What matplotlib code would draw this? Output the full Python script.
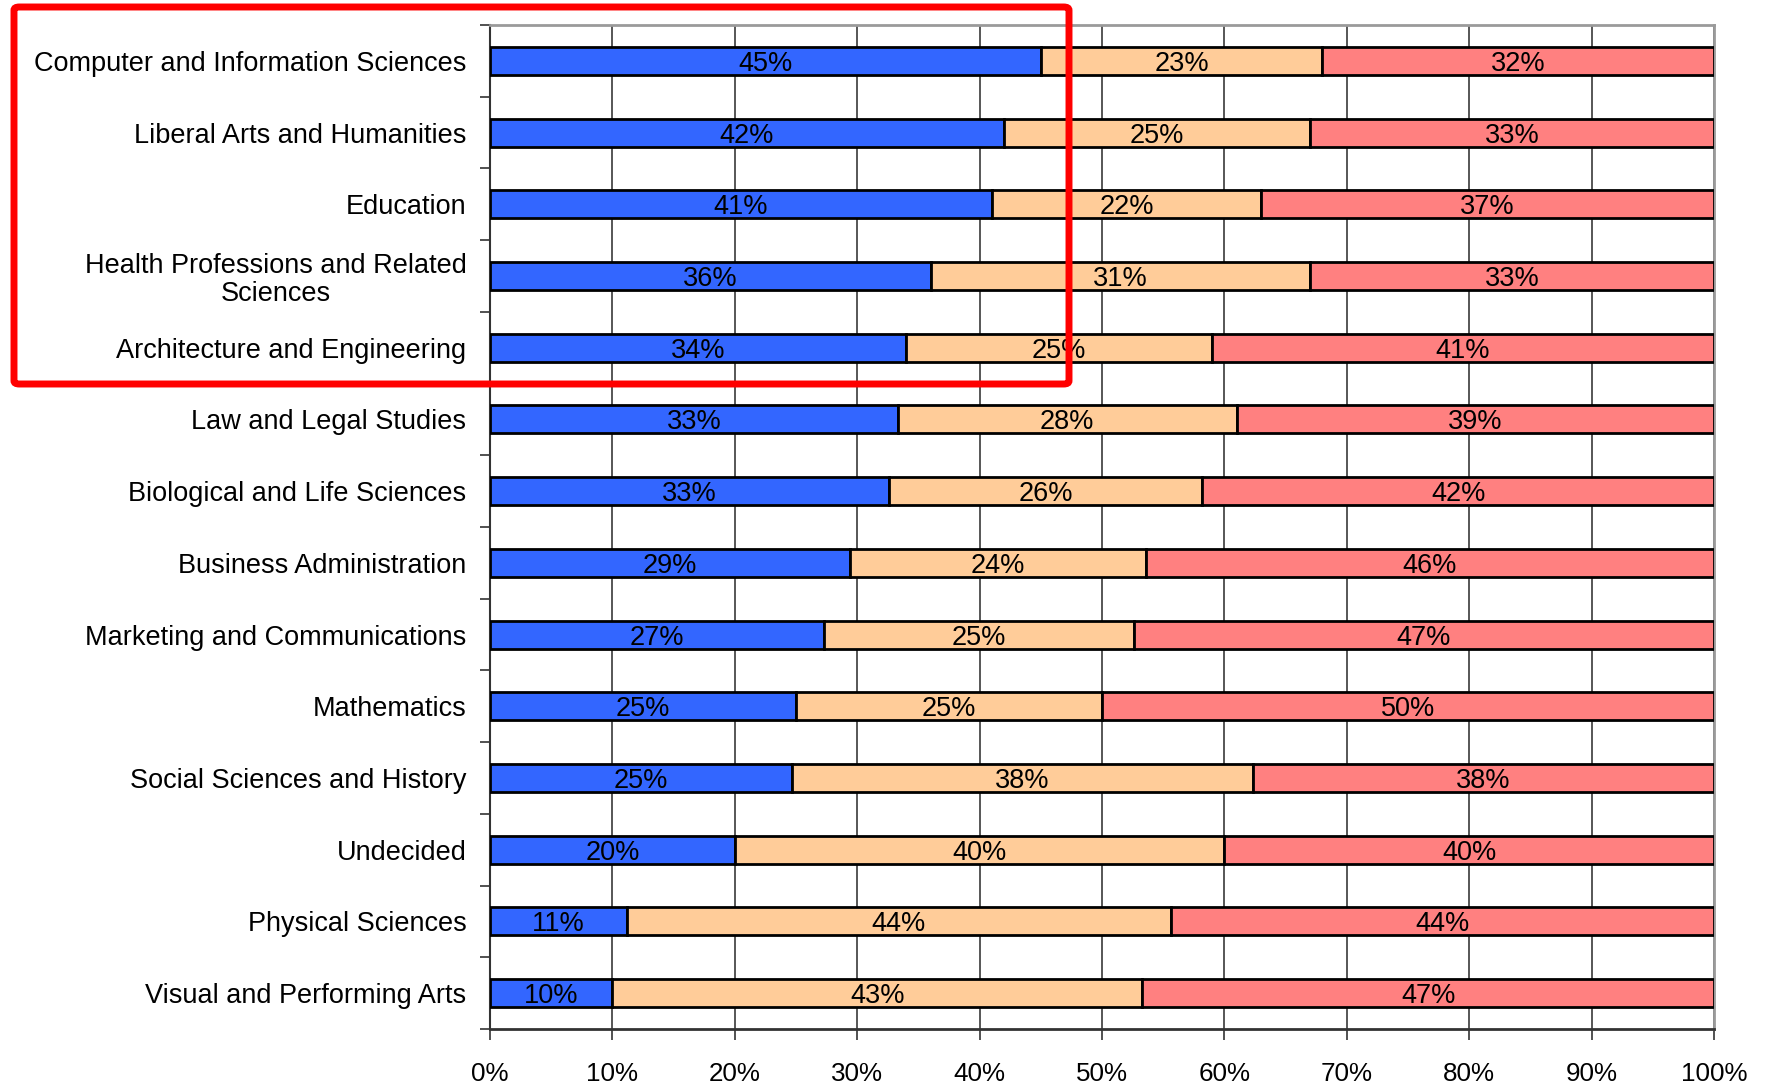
import matplotlib
matplotlib.use("Agg")
import matplotlib.pyplot as plt
from matplotlib.patches import FancyBboxPatch
from matplotlib.ticker import FixedLocator, PercentFormatter
import numpy as np

plt.rcParams['font.family'] = ['Liberation Sans', 'DejaVu Sans']

categories = [
    "Computer and Information Sciences",
    "Liberal Arts and Humanities",
    "Education",
    "Health Professions and Related\nSciences",
    "Architecture and Engineering",
    "Law and Legal Studies",
    "Biological and Life Sciences",
    "Business Administration",
    "Marketing and Communications",
    "Mathematics",
    "Social Sciences and History",
    "Undecided",
    "Physical Sciences",
    "Visual and Performing Arts",
]
first_share = [45.0, 42.0, 41.0, 36.0, 34.0, 33.3, 32.6, 29.4, 27.3, 25.0, 24.7, 20.0, 11.2, 10.0]
second_share = [23.0, 25.0, 22.0, 31.0, 25.0, 27.7, 25.6, 24.2, 25.3, 25.0, 37.6, 40.0, 44.4, 43.3]
third_share = [32.0, 33.0, 37.0, 33.0, 41.0, 39.0, 41.8, 46.4, 47.4, 50.0, 37.7, 40.0, 44.4, 46.7]
x_ticks = [0, 10, 20, 30, 40, 50, 60, 70, 80, 90, 100]

colors = ["#3366FF", "#FFCC99", "#FF8080"]

W, H = 1775, 1083
fig = plt.figure(figsize=(W / 100, H / 100), dpi=100)
ax = fig.add_axes([490 / W, 1 - 1029 / H, (1714 - 490) / W, (1029 - 25) / H])

y = np.arange(len(categories))
left = np.zeros(len(categories))
for vals, col in zip([first_share, second_share, third_share], colors):
    vals = np.array(vals)
    bars = ax.barh(y, vals, left=left, height=0.39, color=col,
                   edgecolor="black", linewidth=2.0, zorder=3)
    for rect, v in zip(bars, vals):
        ax.text(rect.get_x() + rect.get_width() / 2, rect.get_y() + rect.get_height() / 2,
                f"{v:.0f}%", ha="center", va="center_baseline", fontsize=19.5,
                color="black", zorder=4)
    left = left + vals

ax.set_xlim(0, 100)
ax.set_ylim(len(categories) - 0.5, -0.5)

ax.set_xticks(x_ticks)
ax.xaxis.set_major_formatter(PercentFormatter(decimals=0))
ax.tick_params(axis="x", direction="out", length=8, width=1.2, color="#333333",
               labelsize=18.7, pad=16)

ax.set_yticks(y)
ax.set_yticklabels(categories, fontsize=19.5, multialignment="center",
                   linespacing=1.1, va="center_baseline")
ax.tick_params(axis="y", which="major", length=0, pad=17)
ax.yaxis.set_minor_locator(FixedLocator(np.arange(-0.5, len(categories), 1.0)))
ax.tick_params(axis="y", which="minor", direction="out", length=7, width=1.2, color="#333333")

ax.grid(axis="x", color="#3a3a3a", linewidth=1.2, zorder=0)
ax.set_axisbelow(True)

ax.spines["left"].set_color("#333333")
ax.spines["left"].set_linewidth(1.5)
ax.spines["bottom"].set_color("#333333")
ax.spines["bottom"].set_linewidth(2.0)
ax.spines["top"].set_color("#9a9a9a")
ax.spines["top"].set_linewidth(2.0)
ax.spines["right"].set_color("#9a9a9a")
ax.spines["right"].set_linewidth(2.0)

# highlight frame around the top group of majors (figure pixel coordinates)
x0, y0, x1, y1 = 14, 7, 1069, 384
frame = FancyBboxPatch((x0 / W, 1 - y1 / H), (x1 - x0) / W, (y1 - y0) / H,
                       boxstyle="round,pad=0,rounding_size=0.003",
                       transform=fig.transFigure, fill=False,
                       edgecolor="#FF0000", linewidth=5.0, zorder=10)
fig.patches.append(frame)

fig.savefig("out.png", dpi=100)
